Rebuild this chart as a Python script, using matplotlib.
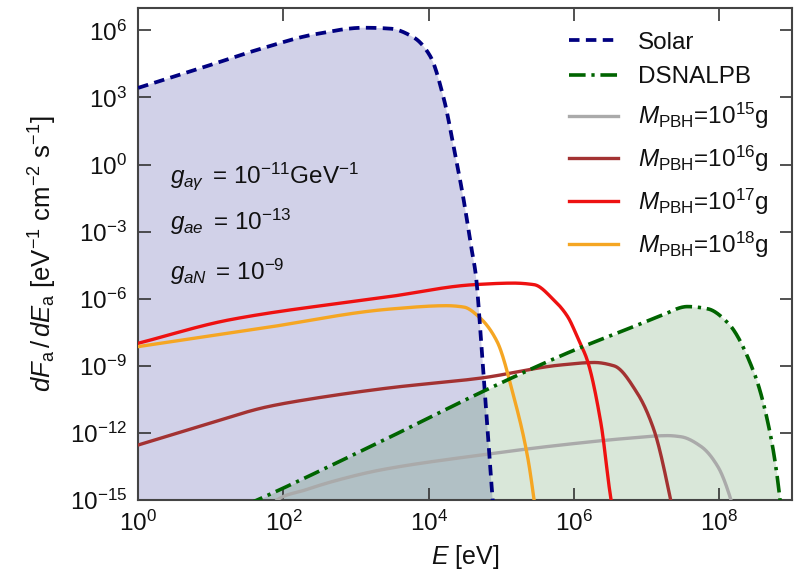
import numpy as np
import matplotlib
matplotlib.use("Agg")
import matplotlib.pyplot as plt
from matplotlib.ticker import FixedLocator, LogFormatterMathtext, NullLocator

plt.rcParams['font.family'] = ['Liberation Sans', 'DejaVu Sans']
plt.rcParams['mathtext.fontset'] = 'custom'
plt.rcParams['mathtext.rm'] = 'Liberation Sans'
plt.rcParams['mathtext.it'] = 'Liberation Sans:italic'
plt.rcParams['mathtext.bf'] = 'Liberation Sans:bold'

# Axion flux spectra, log10(E/eV) and log10(dF/dE)
solar_logE = [0, 0.8, 1.73, 2.42, 3.11, 3.47, 3.80, 4.02, 4.21, 4.35, 4.48, 4.58, 4.65, 4.71, 4.78, 4.88, 4.92]
solar_logF = [3.43, 4.25, 5.22, 5.82, 6.12, 6.08, 5.67, 4.85, 2.91, 0.67, -1.57, -3.6, -5.0, -7.4, -10.5, -15, -16.5]

dsnalpb_logE = [1.5, 1.64, 3.33, 4.71, 5.54, 6.0, 6.74, 7.2, 7.56, 7.84, 8.12, 8.48, 8.67, 8.83, 8.86]
dsnalpb_logF = [-15.2, -15, -12.4, -10.2, -8.95, -8.3, -7.35, -6.75, -6.35, -6.45, -7.09, -9.33, -11.57, -14.85, -16]

pbh15_logE = [1.85, 1.91, 2.3, 2.7, 3.33, 4.71, 5.82, 6.74, 7.29, 7.47, 7.75, 7.98, 8.16, 8.2]
pbh15_logF = [-15.3, -15, -14.55, -14.15, -13.66, -12.99, -12.54, -12.24, -12.12, -12.17, -12.61, -13.51, -15, -15.5]

pbh16_logE = [0, 1.0, 1.75, 2.3, 3.47, 4.71, 5.82, 6.28, 6.55, 6.87, 7.1, 7.33, 7.36]
pbh16_logF = [-12.54, -11.55, -10.85, -10.52, -9.98, -9.55, -8.96, -8.85, -9.0, -10.22, -11.87, -15, -15.5]

pbh17_logE = [0, 1.26, 3.47, 4.62, 5.17, 5.45, 5.72, 5.91, 6.07, 6.18, 6.37, 6.51, 6.54]
pbh17_logF = [-7.99, -6.94, -5.9, -5.37, -5.3, -5.37, -6.05, -6.79, -7.9, -8.73, -11.57, -15, -15.5]

pbh18_logE = [0, 1.72, 3.47, 4.25, 4.48, 4.71, 4.94, 5.17, 5.36, 5.45, 5.47]
pbh18_logF = [-8.14, -7.31, -6.46, -6.31, -6.37, -6.87, -7.91, -10.38, -13.06, -15, -15.5]

pbh_labels = [r'$M_{\rm PBH}$=10$^{15}$g', r'$M_{\rm PBH}$=10$^{16}$g',
              r'$M_{\rm PBH}$=10$^{17}$g', r'$M_{\rm PBH}$=10$^{18}$g']
pbh_colors = ['#aaaaaa', '#a33232', '#ee1111', '#f5a623']

couplings = [r'$g_{a\gamma}\,$ = 10$^{-11}$GeV$^{-1}$',
             r'$g_{ae}\,$ = 10$^{-13}$',
             r'$g_{aN}\,$ = 10$^{-9}$']


def pchip(x, y, xn):
    """Shape-preserving cubic Hermite interpolation."""
    x = np.asarray(x, float)
    y = np.asarray(y, float)
    h = np.diff(x)
    d = np.diff(y) / h
    m = np.zeros_like(y)
    m[0], m[-1] = d[0], d[-1]
    for k in range(1, len(x) - 1):
        if d[k - 1] * d[k] > 0:
            w1 = 2 * h[k] + h[k - 1]
            w2 = h[k] + 2 * h[k - 1]
            m[k] = (w1 + w2) / (w1 / d[k - 1] + w2 / d[k])
    idx = np.clip(np.searchsorted(x, xn) - 1, 0, len(x) - 2)
    t = (xn - x[idx]) / h[idx]
    h00 = 2 * t**3 - 3 * t**2 + 1
    h10 = t**3 - 2 * t**2 + t
    h01 = -2 * t**3 + 3 * t**2
    h11 = t**3 - t**2
    return h00 * y[idx] + h10 * h[idx] * m[idx] + h01 * y[idx + 1] + h11 * h[idx] * m[idx + 1]


def curve(le, lf, n=800):
    xs = np.linspace(le[0], le[-1], n)
    return 10.0 ** xs, 10.0 ** pchip(le, lf, xs)


fig = plt.figure(figsize=(7.94, 5.75), dpi=100)
ax = fig.add_axes([0.174, 0.1304, 0.8235, 0.8556])

E, F = curve(solar_logE, solar_logF)
ax.fill_between(E, F, 1e-20, color='#000080', alpha=0.18, lw=0, zorder=1)
ax.plot(E, F, color='#000080', ls=(0, (2.8, 1.7)), lw=2.7, label='Solar', zorder=5)

E, F = curve(dsnalpb_logE, dsnalpb_logF)
ax.fill_between(E, F, 1e-20, color='#006400', alpha=0.15, lw=0, zorder=1)
ax.plot(E, F, color='#006400', ls=(0, (4.6, 1.6, 0.9, 1.6)), lw=2.6, label='DSNALPB', zorder=5)

for le, lf, c, lab in zip([pbh15_logE, pbh16_logE, pbh17_logE, pbh18_logE],
                          [pbh15_logF, pbh16_logF, pbh17_logF, pbh18_logF],
                          pbh_colors, pbh_labels):
    E, F = curve(le, lf)
    ax.plot(E, F, color=c, lw=2.4, label=lab, zorder=4)

ax.set_xscale('log')
ax.set_yscale('log')
ax.set_xlim(1, 1e9)
ax.set_ylim(1e-15, 1e7)
ax.xaxis.set_major_locator(FixedLocator([1e0, 1e2, 1e4, 1e6, 1e8]))
ax.yaxis.set_major_locator(FixedLocator([1e-15, 1e-12, 1e-9, 1e-6, 1e-3, 1e0, 1e3, 1e6]))
ax.xaxis.set_minor_locator(NullLocator())
ax.yaxis.set_minor_locator(NullLocator())
ax.xaxis.set_major_formatter(LogFormatterMathtext())
ax.yaxis.set_major_formatter(LogFormatterMathtext())
ax.tick_params(which='major', direction='in', length=9, width=1.2, top=True, right=True,
               labelsize=17.5, colors='#333333', labelcolor='#111111', pad=8)
for s in ax.spines.values():
    s.set_color('#444444')
    s.set_linewidth(1.5)

ax.set_xlabel(r'$E$ [eV]', fontsize=18, labelpad=5, color='#111111')
ax.set_ylabel(r'$dF_{\rm a}\,/\,dE_{\rm a}$ [eV$^{-1}$ cm$^{-2}$ s$^{-1}$]',
              fontsize=18.5, labelpad=8, color='#111111')

for txt, yb in zip(couplings, [0.644, 0.549, 0.447]):
    ax.text(0.049, yb, txt, transform=ax.transAxes, fontsize=17.5,
            va='baseline', ha='left', zorder=6, color='#111111')

leg = ax.legend(loc='upper right', frameon=False, fontsize=17.5, handlelength=2.05,
                handletextpad=0.8, labelspacing=0.52, borderaxespad=0.57,
                bbox_to_anchor=(1.0, 1.0))
for t in leg.get_texts():
    t.set_color('#111111')

fig.savefig('out.png', dpi=100)
